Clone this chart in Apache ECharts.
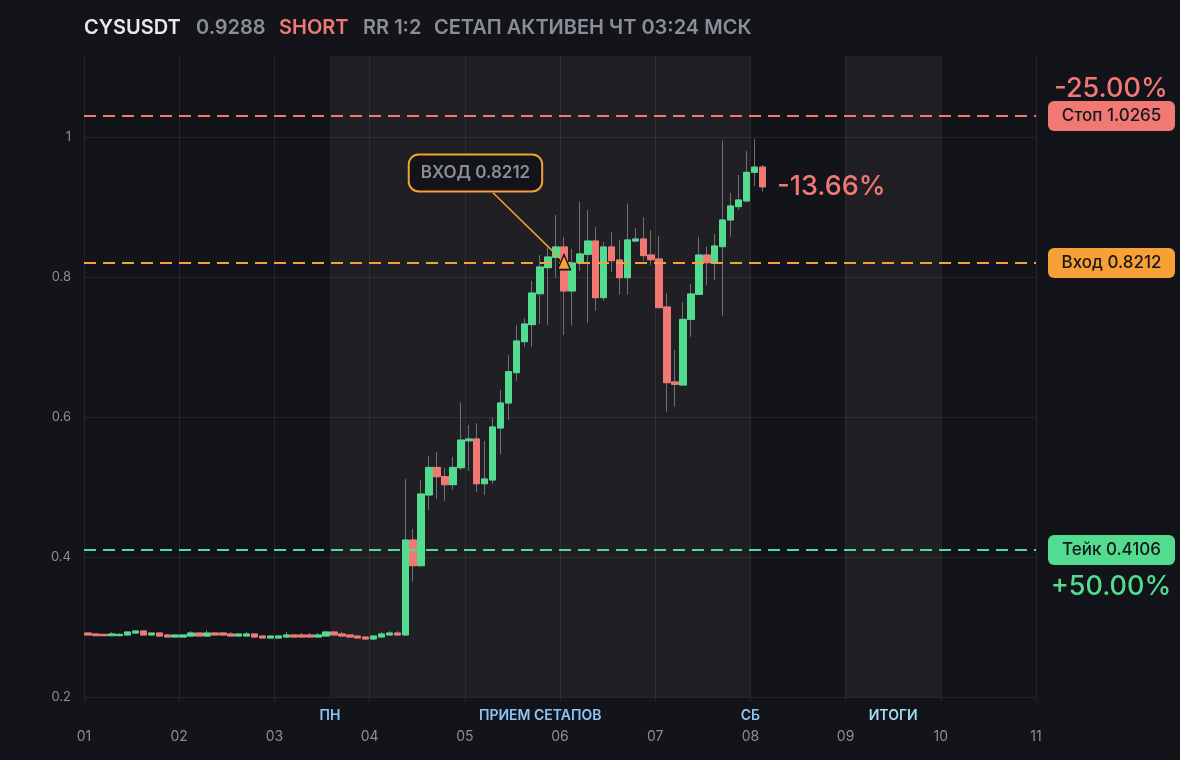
<!DOCTYPE html>
<html><head><meta charset="utf-8">
<script src="https://cdn.jsdelivr.net/npm/echarts@6/dist/echarts.min.js"></script>
<style>html,body{margin:0;padding:0;background:#131419;}#c{width:1180px;height:760px;}</style>
</head><body><div id="c"></div>
<script>
// ---- data ----
const dayLabels = ['01','02','03','04','05','06','07','08','09','10','11'];
const yTicks = [0.2, 0.4, 0.6, 0.8, 1.0];
const openP = [
.2914,.2900,.2895,.2876,.2876,.2886,.2914,.2943,.2886,.2914,
.2886,.2857,.2857,.2871,.2914,.2871,.2914,.2914,.2900,.2871,
.2871,.2900,.2871,.2843,.2843,.2857,.2886,.2886,.2886,.2857,
.2871,.2929,.2900,.2886,.2871,.2857,.2829,.2857,.2886,.2914,
.2886,.4243,.3876,.4886,.5280,.5150,.5033,.5276,.5660,.5686,
.5047,.5100,.5843,.6200,.6633,.7076,.7319,.7761,.8133,.8281,
.8429,.7800,.8200,.8324,.8514,.7705,.8429,.8243,.7990,.8514,
.8543,.8314,.8257,.7571,.6500,.6457,.7395,.7752,.8314,.8204,
.8433,.8814,.9005,.9086,.9495,.9570];
const closeP = [
.2886,.2876,.2876,.2900,.2895,.2929,.2943,.2886,.2914,.2871,
.2857,.2886,.2886,.2914,.2871,.2914,.2886,.2886,.2871,.2900,
.2900,.2857,.2843,.2871,.2871,.2886,.2857,.2857,.2857,.2886,
.2929,.2886,.2871,.2857,.2843,.2829,.2871,.2900,.2914,.2886,
.4243,.3876,.4900,.5280,.5147,.5033,.5280,.5670,.5686,.5047,
.5114,.5857,.6200,.6647,.7086,.7329,.7771,.8143,.8286,.8429,
.7800,.8200,.8329,.8514,.7705,.8429,.8233,.7990,.8529,.8543,
.8305,.8247,.7562,.6490,.6467,.7395,.7757,.8314,.8204,.8443,
.8814,.9014,.9100,.9495,.9570,.9288];
const lowP = [
.2886,.2876,.2876,.2876,.2876,.2871,.2900,.2886,.2886,.2857,
.2857,.2857,.2857,.2871,.2871,.2857,.2886,.2886,.2871,.2871,
.2871,.2843,.2843,.2843,.2843,.2843,.2857,.2857,.2857,.2857,
.2871,.2886,.2871,.2843,.2843,.2829,.2814,.2843,.2886,.2886,
.2886,.3647,.3860,.4670,.4830,.4800,.4960,.5240,.5230,.4930,
.4886,.5047,.5470,.5957,.6514,.7000,.7000,.7329,.7314,.7986,
.7170,.7304,.8086,.7343,.7519,.7660,.8076,.7750,.7750,.8500,
.8233,.8170,.7562,.6076,.6147,.6457,.7147,.7750,.7886,.7957,
.7447,.8576,.8957,.9086,.9300,.9220];
const highP = [
.2914,.2900,.2895,.2929,.2914,.2929,.2943,.2943,.2914,.2914,
.2900,.2886,.2886,.2943,.2914,.2957,.2929,.2929,.2929,.2900,
.2929,.2900,.2871,.2871,.2871,.2929,.2886,.2914,.2914,.2914,
.2929,.2929,.2929,.2886,.2871,.2857,.2871,.2929,.2943,.2943,
.5114,.4400,.5100,.5440,.5500,.5270,.5430,.6210,.5886,.5910,
.5657,.5986,.6386,.6886,.7314,.7410,.7943,.8314,.8419,.8886,
.8576,.8400,.9076,.8957,.8710,.8500,.8638,.8530,.9050,.8695,
.8852,.8670,.8586,.7770,.6957,.7638,.7900,.8576,.8433,.8614,
.9948,.9200,.9457,.9800,.9970,.9600];
const symbolName = 'CYSUSDT';
const lastPrice = 0.9288;
const stopLevel = 1.0265, entryLevel = 0.8212, takeLevel = 0.4106;
const entryIndex = 60;
const zoneSetup = [2.5833, 7];   // in days from 01 00:00
const zoneResult = [8, 9];

// ---- categories (2h candles) ----
const cats = [];
for (let d = 0; d < 10; d++) for (let h = 0; h < 24; h += 2)
  cats.push(dayLabels[d] + ' ' + String(h).padStart(2,'0') + ':00');

const UP = '#52dc90', DOWN = '#f27874', ORANGE = '#f7a035';
const GRID = 'rgba(255,255,255,0.075)';
const GREY = '#8b8e96';
const FONT = 'Inter';

const wickData = openP.map((o,i)=>[o, closeP[i], lowP[i], highP[i]]);
const bodyData = openP.map((o,i)=>[o, closeP[i], Math.min(o,closeP[i]), Math.max(o,closeP[i])]);

const chart = echarts.init(document.getElementById('c'), null, {renderer:'canvas'});
const boxLabel = (txt, bg) => ({
  show: true, position: 'end', distance: 12,
  formatter: '{t|' + txt + '}',
  backgroundColor: bg, borderRadius: 6, padding: [6, 10],
  rich: { t: { width: 107, align: 'center', color: '#17181c', fontSize: 17, fontWeight: 500, fontFamily: FONT, lineHeight: 18 } }
});
const zoneText = (c) => ({ color: c, fontSize: 14, fontWeight: 600, fontFamily: FONT });

chart.setOption({
  backgroundColor: '#131419',
  animation: false,
  textStyle: { fontFamily: FONT },
  graphic: [
    { type:'text', x:84, y:28, style:{ text: symbolName, fill:'#e8e9ec', fontSize:20, fontWeight:600, fontFamily:FONT, verticalAlign:'middle' } },
    { type:'text', x:196, y:28, style:{ text: String(lastPrice), fill:GREY, fontSize:20, fontWeight:600, fontFamily:FONT, verticalAlign:'middle' } },
    { type:'text', x:279, y:28, style:{ text:'SHORT', fill:DOWN, fontSize:20, fontWeight:600, fontFamily:FONT, verticalAlign:'middle' } },
    { type:'text', x:363, y:28, style:{ text:'RR 1:2', fill:GREY, fontSize:20, fontWeight:600, fontFamily:FONT, verticalAlign:'middle' } },
    { type:'text', x:434, y:28, style:{ text:'СЕТАП АКТИВЕН ЧТ 03:24 МСК', fill:GREY, fontSize:20, fontWeight:600, fontFamily:FONT, verticalAlign:'middle' } }
  ],
  grid: { left: 84, right: 144, top: 56, bottom: 63 },
  xAxis: [
    { type:'category', data: cats, boundaryGap: true, show: false },
    { type:'value', min:0, max:10, interval:1, position:'bottom',
      axisLine:{show:false},
      axisTick:{show:true, length:5, lineStyle:{color:GRID}},
      axisLabel:{ color:GREY, fontSize:14, margin:33, fontFamily:FONT, formatter: v => dayLabels[Math.round(v)] },
      splitLine:{ show:true, lineStyle:{color:GRID, width:1} } }
  ],
  yAxis: {
    type:'value', min:0.2, max:1.1157, interval:0.2, scale:true,
    axisLine:{show:false}, axisTick:{show:false},
    splitLine:{show:false},
    axisLabel:{ color:GREY, fontSize:13, margin:13, fontFamily:FONT,
      formatter: v => { const k = Math.round(v*5); return Math.abs(v*5-k) < 1e-6 ? String(+(k/5).toFixed(1)) : ''; } }
  },
  series: [
    { // zones & bottom labels
      type:'line', xAxisIndex:1, yAxisIndex:0, data:[], clip:false, silent:true,
      markArea: { silent:true, z:-1,
        itemStyle:{ color:'rgba(255,255,255,0.05)' },
        label:{ show:true, position:'bottom', distance:12 },
        data: [
          [ { xAxis: zoneSetup[0], name:'ПРИЕМ СЕТАПОВ', label: zoneText('#8cc4f6') }, { xAxis: zoneSetup[1] } ],
          [ { xAxis: zoneResult[0], name:'ИТОГИ', label: zoneText('#a4dbf3') }, { xAxis: zoneResult[1] } ]
        ] },
      markPoint: { silent:true, symbol:'circle', symbolSize:0,
        data: [
          { coord:[zoneSetup[0], 0.2], label:{ show:true, position:'bottom', distance:12, formatter:'ПН', ...zoneText('#8cc4f6') } },
          { coord:[zoneSetup[1], 0.2], label:{ show:true, position:'bottom', distance:12, formatter:'СБ', ...zoneText('#8cc4f6') } },
          { coord:[10, stopLevel], label:{ show:true, position:'inside', offset:[75,-30], formatter:'-25.00%', color:DOWN, fontSize:27, fontWeight:500, fontFamily:FONT } },
          { coord:[10, takeLevel], label:{ show:true, position:'inside', offset:[75,37], formatter:'+50.00%', color:UP, fontSize:27, fontWeight:500, fontFamily:FONT } }
        ] }
    },
    { // horizontal grid lines
      type:'line', xAxisIndex:1, yAxisIndex:0, data:[], silent:true,
      markLine: { silent:true, z:0, symbol:['none','none'], label:{show:false},
        lineStyle:{ color:GRID, type:'solid', width:1 },
        data: yTicks.map(v => ({ yAxis: v })) }
    },
    { // wicks
      type:'candlestick', xAxisIndex:0, yAxisIndex:0, barWidth:7, z:3,
      data: wickData,
      itemStyle:{ color:'transparent', color0:'transparent', borderColor:'#6d7077', borderColor0:'#6d7077', borderWidth:1 }
    },
    { // bodies
      type:'candlestick', xAxisIndex:0, yAxisIndex:0, barWidth:7, z:4,
      data: bodyData,
      itemStyle:{ color:UP, color0:DOWN, borderColor:UP, borderColor0:DOWN, borderWidth:1 },
      markPoint: { silent:true,
        data: [
          { coord:[entryIndex, entryLevel], symbol:'triangle', symbolSize:[13,15],
            itemStyle:{ color:ORANGE, borderColor:'#131419', borderWidth:1.5 }, label:{show:false} },
          { coord:[openP.length-1, lastPrice], symbol:'circle', symbolSize:0,
            label:{ show:true, position:'right', distance:15, formatter:'-13.66%', color:DOWN, fontSize:27, fontWeight:500, fontFamily:FONT } }
        ] }
    },
    { // level lines + callout
      type:'line', xAxisIndex:1, yAxisIndex:0, data:[], clip:false, silent:true, z:5,
      markLine: { silent:true, symbol:['none','none'],
        data: [
          { yAxis: stopLevel, lineStyle:{ color:DOWN, type:[12,7], width:2 }, label: boxLabel('Стоп ' + stopLevel.toFixed(4), DOWN) },
          { yAxis: entryLevel, lineStyle:{ color:ORANGE, type:[12,7], width:2 }, label: boxLabel('Вход ' + entryLevel.toFixed(4), ORANGE) },
          { yAxis: takeLevel, lineStyle:{ color:UP, type:[12,7], width:2 }, label: boxLabel('Тейк ' + takeLevel.toFixed(4), UP) },
          [ { coord:[4.296, 0.9204], lineStyle:{ color:ORANGE, type:'solid', width:1.5 }, label:{show:false} },
            { coord:[(entryIndex+0.5)/12, entryLevel] } ]
        ] },
      markPoint: { silent:true, symbol:'circle', symbolSize:0,
        data: [
          { coord:[4.112, 0.9486], label:{ show:true, position:'inside', formatter:'ВХОД ' + entryLevel.toFixed(4),
            backgroundColor:'#131419', borderColor:ORANGE, borderWidth:2, borderRadius:9, padding:[9,11],
            color:GREY, fontSize:17, fontWeight:600, fontFamily:FONT } }
        ] }
    }
  ]
});
</script>
</body></html>
